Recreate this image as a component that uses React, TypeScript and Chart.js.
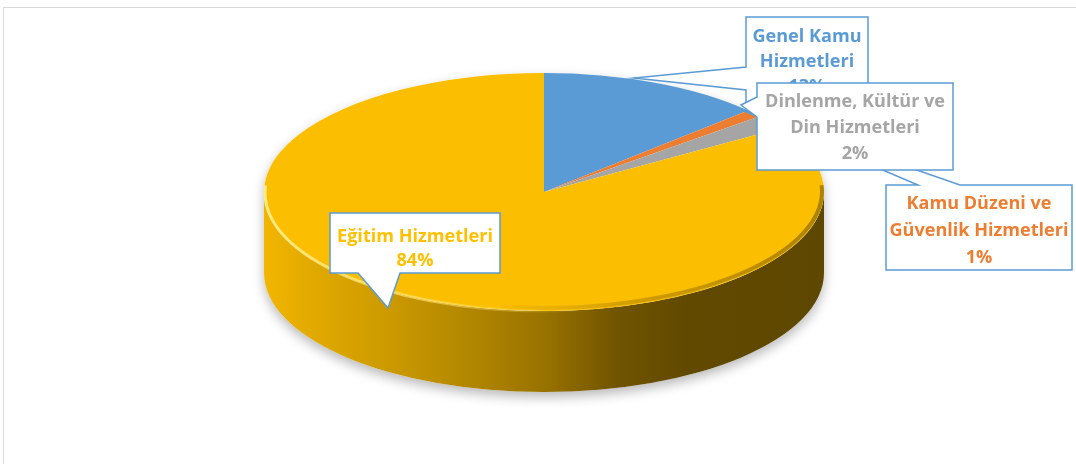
import React, { useEffect, useRef } from "react";
import { Chart, registerables } from "chart.js";

Chart.register(...registerables);

// ---- data ----
const categories = [
  "Genel Kamu Hizmetleri",
  "Kamu Düzeni ve Güvenlik Hizmetleri",
  "Dinlenme, Kültür ve Din Hizmetleri",
  "Eğitim Hizmetleri",
];
const values = [13, 1, 2, 84];
const sliceColors = ["#5B9BD5", "#ED7D31", "#A5A5A5", "#FFC000"];
const topFaceColors = ["#5B9BD5", "#ED7D31", "#A5A5A5", "#FBBE00"];
const labelLines = [
  ["Genel Kamu", "Hizmetleri"],
  ["Kamu Düzeni ve", "Güvenlik Hizmetleri"],
  ["Dinlenme, Kültür ve", "Din Hizmetleri"],
  ["Eğitim Hizmetleri"],
];

// ---- layout (screen geometry of the tilted pie and the callouts) ----
const P = { cx: 544, cy: 192, rx: 280, ry: 119, depth: 81 };
type Callout = {
  idx: number;
  box: { x: number; y: number; w: number; h: number };
  side: "left" | "top" | "bottom";
  base: [number, number];
  tip: [number, number];
  firstY: number;
  lh: number;
};
// drawn in this order (later ones cover earlier ones)
const callouts: Callout[] = [
  { idx: 1, box: { x: 886, y: 185, w: 186, h: 85 }, side: "top", base: [918, 960], tip: [735, 107], firstY: 204, lh: 27 },
  { idx: 0, box: { x: 746, y: 17, w: 122, h: 90 }, side: "left", base: [67, 90], tip: [634, 78], firstY: 37, lh: 25 },
  { idx: 2, box: { x: 757, y: 83, w: 196, h: 87 }, side: "left", base: [97, 117], tip: [741, 105], firstY: 102, lh: 26 },
  { idx: 3, box: { x: 330, y: 213, w: 170, h: 60 }, side: "bottom", base: [358, 400], tip: [388, 308], firstY: 237, lh: 24 },
];

function shade(hex: string, f: number) {
  const n = parseInt(hex.slice(1), 16);
  const r = Math.round(((n >> 16) & 255) * f);
  const g = Math.round(((n >> 8) & 255) * f);
  const b = Math.round((n & 255) * f);
  return `rgb(${r},${g},${b})`;
}
const sideStops: [number, number][] = [
  [0, 0.95], [0.06, 0.9], [0.24, 0.79], [0.5, 0.6], [0.63, 0.44], [0.75, 0.38], [1, 0.37],
];

const pie3d = {
  id: "pie3d",
  beforeDatasetsDraw(chart: any) {
    const ctx: CanvasRenderingContext2D = chart.ctx;
    const meta = chart.getDatasetMeta(0);
    const arcs = meta.data;
    if (!arcs.length) return;
    const { x, y, outerRadius } = arcs[0].getProps(["x", "y", "outerRadius"], true);

    // soft shadow under the whole body
    ctx.save();
    ctx.shadowColor = "rgba(0,0,0,0.28)";
    ctx.shadowBlur = 12;
    ctx.shadowOffsetY = 5;
    ctx.fillStyle = "#ffffff";
    ctx.beginPath();
    ctx.ellipse(P.cx, P.cy, P.rx, P.ry, 0, Math.PI, 2 * Math.PI);
    ctx.ellipse(P.cx, P.cy + P.depth, P.rx, P.ry, 0, 0, Math.PI);
    ctx.closePath();
    ctx.fill();
    ctx.restore();

    // side walls of each slice (front half only)
    arcs.forEach((arc: any, i: number) => {
      const { startAngle, endAngle } = arc.getProps(["startAngle", "endAngle"], true);
      const s = Math.max(startAngle, 0);
      const e = Math.min(endAngle, Math.PI);
      if (e <= s) return;
      const g = ctx.createLinearGradient(P.cx - P.rx, 0, P.cx + P.rx, 0);
      sideStops.forEach(([o, f]) => g.addColorStop(o, shade(sliceColors[i], f)));
      ctx.save();
      ctx.fillStyle = g;
      ctx.beginPath();
      ctx.ellipse(P.cx, P.cy, P.rx, P.ry, 0, s, e);
      ctx.ellipse(P.cx, P.cy + P.depth, P.rx, P.ry, 0, e, s, true);
      ctx.closePath();
      ctx.fill();
      ctx.restore();
    });

    // map the library's circular pie onto the tilted ellipse
    ctx.save();
    ctx.translate(P.cx, P.cy);
    ctx.scale(P.rx / outerRadius, P.ry / outerRadius);
    ctx.translate(-x, -y);
  },
  afterDatasetsDraw(chart: any) {
    const ctx: CanvasRenderingContext2D = chart.ctx;
    ctx.restore();

    // rim bevel: dark soft band on right, highlight on left
    ctx.save();
    const hg = ctx.createLinearGradient(P.cx - P.rx, 0, P.cx + 40, 0);
    hg.addColorStop(0, "rgba(255,236,140,0.95)");
    hg.addColorStop(0.5, "rgba(255,230,120,0.6)");
    hg.addColorStop(1, "rgba(255,230,120,0)");
    ctx.strokeStyle = hg;
    ctx.lineWidth = 3;
    ctx.beginPath();
    ctx.ellipse(P.cx, P.cy + 1, P.rx - 1, P.ry - 1, 0, Math.PI * 0.45, Math.PI * 1.02);
    ctx.stroke();
    const dg = ctx.createLinearGradient(P.cx - 60, 0, P.cx + P.rx, 0);
    dg.addColorStop(0, "rgba(150,110,0,0)");
    dg.addColorStop(0.5, "rgba(150,110,0,0.45)");
    dg.addColorStop(1, "rgba(120,90,0,0.6)");
    ctx.strokeStyle = dg;
    ctx.lineWidth = 4;
    ctx.beginPath();
    ctx.ellipse(P.cx, P.cy - 1, P.rx - 2, P.ry - 2, 0, -0.05, Math.PI * 0.55);
    ctx.stroke();
    ctx.restore();

    // callouts
    const total = values.reduce((a, b) => a + b, 0);
    ctx.save();
    let fs = 16;
    ctx.font = `bold ${fs}px "Open Sans"`;
    const w = ctx.measureText("Eğitim Hizmetleri").width;
    fs = (16 * 156) / w;
    callouts.forEach((c) => {
      const { x, y, w: bw, h } = c.box;
      const r = x + bw;
      const b = y + h;
      ctx.beginPath();
      ctx.moveTo(x, y);
      if (c.side === "top") {
        ctx.lineTo(c.base[0], y);
        ctx.lineTo(c.tip[0], c.tip[1]);
        ctx.lineTo(c.base[1], y);
      }
      ctx.lineTo(r, y);
      ctx.lineTo(r, b);
      if (c.side === "bottom") {
        ctx.lineTo(c.base[1], b);
        ctx.lineTo(c.tip[0], c.tip[1]);
        ctx.lineTo(c.base[0], b);
      }
      ctx.lineTo(x, b);
      if (c.side === "left") {
        ctx.lineTo(x, c.base[1]);
        ctx.lineTo(c.tip[0], c.tip[1]);
        ctx.lineTo(x, c.base[0]);
      }
      ctx.closePath();
      ctx.fillStyle = "#ffffff";
      ctx.fill();
      ctx.strokeStyle = "#5B9BD5";
      ctx.lineWidth = 1.5;
      ctx.lineJoin = "miter";
      ctx.stroke();

      const lines = [...labelLines[c.idx], `${Math.round((values[c.idx] / total) * 100)}%`];
      ctx.fillStyle = sliceColors[c.idx];
      ctx.font = `bold ${fs}px "Open Sans"`;
      ctx.textAlign = "center";
      ctx.textBaseline = "middle";
      lines.forEach((t, k) => ctx.fillText(t, x + bw / 2, c.firstY + k * c.lh));
    });
    ctx.restore();
  },
};

export default function App() {
  const ref = useRef<HTMLCanvasElement | null>(null);
  useEffect(() => {
    if (!ref.current) return;
    const chart = new Chart(ref.current, {
      type: "pie",
      data: {
        labels: categories,
        datasets: [
          {
            data: values,
            backgroundColor: topFaceColors,
            borderWidth: 0,
            clip: false as any,
          },
        ],
      },
      options: {
        responsive: false,
        animation: false,
        events: [],
        layout: { padding: 0 },
        plugins: { legend: { display: false }, tooltip: { enabled: false } },
      },
      plugins: [pie3d],
    });
    return () => chart.destroy();
  }, []);
  return (
    <div style={{ position: "absolute", left: 0, top: 0, width: 1076, height: 464, overflow: "hidden", background: "#fff" }}>
      <div
        style={{
          position: "absolute",
          left: 3,
          top: 7,
          width: 1100,
          height: 480,
          border: "1px solid #d9d9d9",
          boxSizing: "border-box",
        }}
      />
      <canvas ref={ref} width={1076} height={464} style={{ position: "absolute", left: 0, top: 0 }} />
    </div>
  );
}
